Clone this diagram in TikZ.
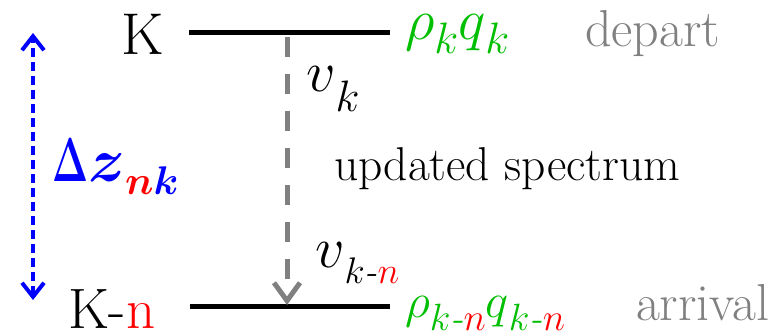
\RequirePackage{fix-cm}
\documentclass[tikz,border=0pt]{standalone}
\usetikzlibrary{arrows.meta}
\usepackage{graphicx}
\definecolor{lgreen}{RGB}{0,190,0}
\definecolor{lgrey}{RGB}{128,128,128}
\definecolor{pblue}{RGB}{0,0,255}
\definecolor{pred}{RGB}{255,0,0}
\newcommand\fs[1]{\fontsize{#1}{#1}\selectfont}
\newcommand\lowsub[3]{\raisebox{-#1}{\fs{#2}#3}}
\newcommand\narrowdelta{\scalebox{0.62}[1]{\boldmath$\mathbf{\Delta}$}}
\newcommand\dzlabel{\fs{62}\narrowdelta{\boldmath$z$}\raisebox{-13pt}{\fs{40}\boldmath\textcolor{pred}{$n$}$k$}}
\tikzset{
  txt/.style={inner sep=0pt, outer sep=0pt, anchor=base west},
  level/.style={line width=5pt, black},
  transit/.style={line width=5pt, lgrey, dash pattern=on 20pt off 17pt, -{Straight Barb[length=18pt,width=26pt]}},
  span/.style={line width=4pt, pblue, dash pattern=on 9pt off 5pt, {Straight Barb[length=14pt,width=22pt]}-{Straight Barb[length=14pt,width=22pt]}},
}
\begin{document}
\begin{tikzpicture}[x=1pt,y=-1pt]
\useasboundingbox (0,0) rectangle (782,334);
% levels
\coordinate (t1) at (189,33);
\coordinate (t2) at (390,33);
\coordinate (b1) at (190,306);
\coordinate (b2) at (390,306);
\draw[level] (t1) -- (t2);
\draw[level] (b1) -- (b2);
% transition arrow
\coordinate (gs) at (287,37);
\coordinate (ge) at (287,305);
\draw[transit] (gs) -- (ge);
% span arrow
\coordinate (bs) at (33,300);
\coordinate (be) at (33,33);
\draw[span] (bs) -- (be);
% labels
\node[txt] (K) at (121,55) {\fs{59}K};
\node[txt] (Kn) at (68,328) {\fs{57}K-\textcolor{pred}{n}};
\node[txt, text=lgrey] (dep) at (585,47) {\fs{52}depart};
\node[txt, text=lgrey] (arr) at (636,320) {\fs{52}arrival};
\node[txt] (upd) at (334,180) {\fs{47.5}updated spectrum};
\node[txt] (vk) at (306,92) {\fs{58}$v$\lowsub{20pt}{44}{$k$}};
\node[txt] (vkn) at (315,267) {\fs{58}$v$\lowsub{16pt}{37}{$k$\textit{-}\textcolor{pred}{$n$}}};
\node[txt, text=lgreen] (rq) at (405,40) {\fs{58}$\rho$\lowsub{14pt}{44}{$k$}$q$\lowsub{14pt}{44}{$k$}};
\node[txt, text=lgreen] (rqn) at (405,317) {\fs{49}$\rho$\lowsub{13pt}{38}{$k$\textit{-}\textcolor{pred}{$n$}}$q$\lowsub{13pt}{38}{$k$\textit{-}\textcolor{pred}{$n$}}};
\node[txt, text=pblue] (dz) at (52,182) {\dzlabel};
\end{tikzpicture}
\end{document}
